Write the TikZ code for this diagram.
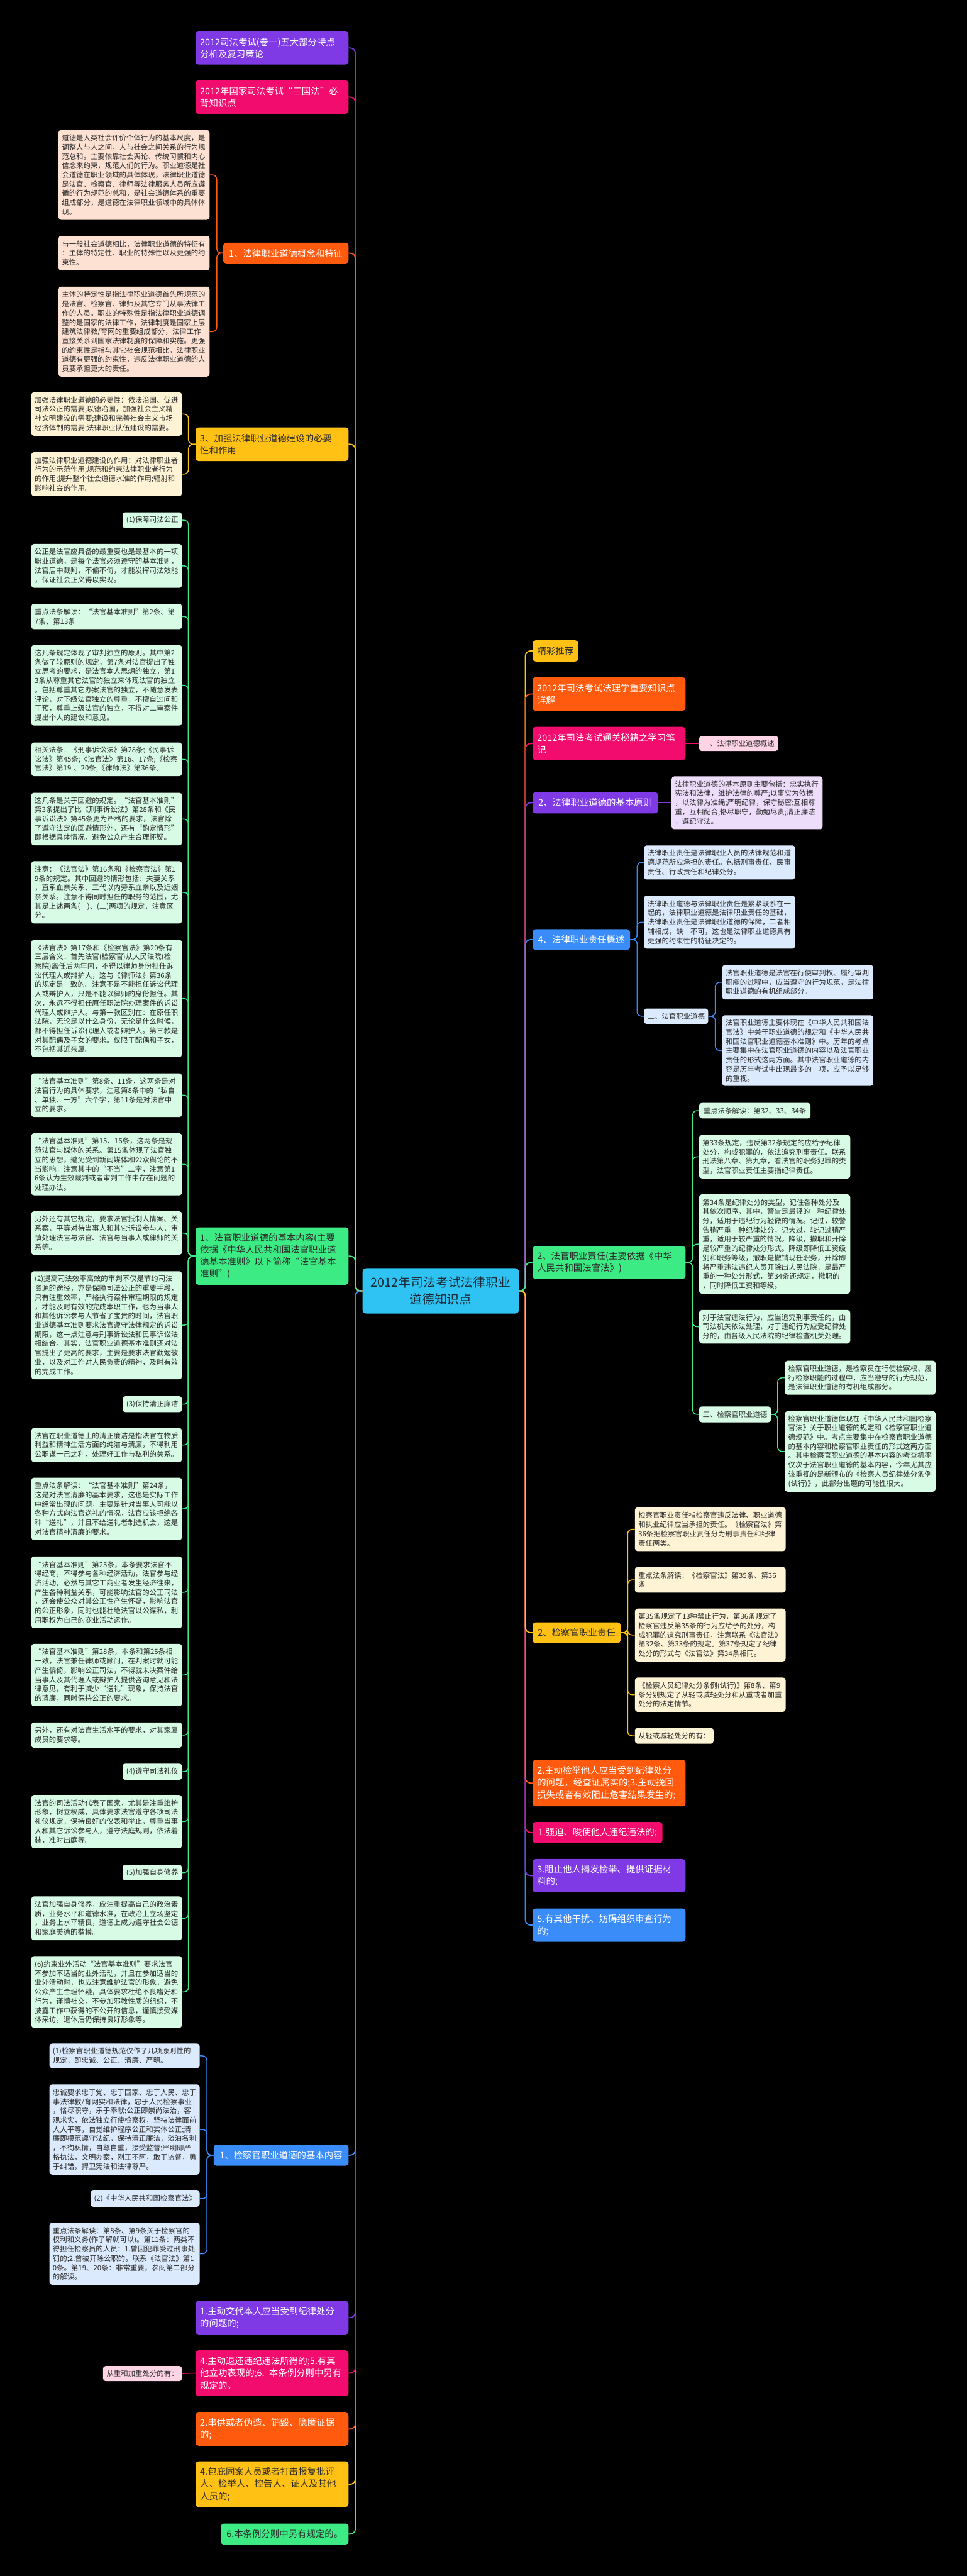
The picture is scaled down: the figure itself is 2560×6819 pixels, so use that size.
\documentclass[tikz,border=0pt]{standalone}
\usepackage{fontspec}
\setmainfont{Noto Sans CJK SC}
\definecolor{cpurple}{HTML}{7F3AE6}
\definecolor{cpink}{HTML}{F20C6E}
\definecolor{corange}{HTML}{FF5A0E}
\definecolor{cyellow}{HTML}{FFC114}
\definecolor{cgreen}{HTML}{3DEB85}
\definecolor{cblue}{HTML}{3A8CF8}
\definecolor{croot}{HTML}{2EC3F3}
\definecolor{lpeach}{HTML}{FDE1D3}
\definecolor{lyellow}{HTML}{FFF3D6}
\definecolor{lgreen}{HTML}{D8FBE6}
\definecolor{lblue}{HTML}{DCEAFD}
\definecolor{lpurple}{HTML}{EEDCFB}
\definecolor{lpink}{HTML}{FFD5E5}
\definecolor{tdark}{HTML}{2A2A2A}
\definecolor{rootdark}{HTML}{1B2A36}
\tikzset{
 mainbox/.style={rounded corners=8pt, inner xsep=12pt, inner ysep=6pt, font=\fontsize{24}{32}\selectfont, align=left},
 kidbox/.style={rounded corners=7pt, inner xsep=9pt, inner ysep=5pt, font=\fontsize{19}{24.5}\selectfont, align=left, text=tdark},
 lm/.style={mainbox, anchor=east},
 rm/.style={mainbox, anchor=west},
 lk/.style={kidbox, anchor=east},
 rk/.style={kidbox, anchor=west},
 wm/.style={text width=381pt},
 wk/.style={text width=381pt},
 spine/.style={line width=3pt, rounded corners=14pt},
 brk/.style={line width=2.5pt, rounded corners=12pt},
}
\begin{document}
\begin{tikzpicture}[x=1pt,y=-1pt]
\useasboundingbox (0,0) rectangle (2560,6819);
\fill[black] (0,0) rectangle (2560,6819);

% root
\node[rounded corners=10pt, fill=croot, text=rootdark, font=\fontsize{33}{45}\selectfont, align=center, minimum width=414pt, minimum height=120pt, inner sep=4pt] (root) at (1167,3417) {2012年司法考试法律职业\\道德知识点};
\coordinate (lsp) at (941,3417);
\coordinate (rsp) at (1391,3417);

% ---------------- left main nodes
\node[lm, fill=cpurple, text=white, wm, minimum height=88pt] (L1) at (923,127) {2012司法考试(卷一)五大部分特点\\分析及复习策论};
\node[lm, fill=cpink, text=white, wm, minimum height=89pt] (L2) at (923,257) {2012年国家司法考试“三国法”必\\背知识点};
\node[lm, fill=corange, text=white, minimum width=332pt, minimum height=55pt] (L3) at (923,670) {1、法律职业道德概念和特征};
\node[lm, fill=cyellow, text=tdark, wm, minimum height=89pt] (L4) at (923,1176) {3、加强法律职业道德建设的必要\\性和作用};
\node[lm, fill=cgreen, text=tdark, wm, minimum height=152pt] (L5) at (923,3325) {1、法官职业道德的基本内容(主要\\依据《中华人民共和国法官职业道\\德基本准则》以下简称“法官基本\\准则”)};
\node[lm, fill=cblue, text=white, minimum width=357pt, minimum height=56pt] (L6) at (923,5705) {1、检察官职业道德的基本内容};
\node[lm, fill=cpurple, text=white, wm, minimum height=89pt] (L7) at (923,6135) {1.主动交代本人应当受到纪律处分\\的问题的;};
\node[lm, fill=cpink, text=white, wm, minimum height=121pt] (L8) at (923,6282) {4.主动退还违纪违法所得的;5.有其\\他立功表现的;6. 本条例分则中另有\\规定的。};
\node[lm, fill=corange, text=white, wm, minimum height=88pt] (L9) at (923,6430) {2.串供或者伪造、销毁、隐匿证据\\的;};
\node[lm, fill=cyellow, text=tdark, wm, minimum height=121pt] (L10) at (923,6576) {4.包庇同案人员或者打击报复批评\\人、检举人、控告人、证人及其他\\人员的;};
\node[lm, fill=cgreen, text=tdark, minimum width=338pt, minimum height=56pt] (L11) at (923,6708) {6.本条例分则中另有规定的。};

% ---------------- right main nodes
\node[rm, fill=cyellow, text=tdark, minimum width=121pt, minimum height=56pt] (R1) at (1410,1723) {精彩推荐};
\node[rm, fill=corange, text=white, wm, minimum height=89pt] (R2) at (1410,1837) {2012年司法考试法理学重要知识点\\详解};
\node[rm, fill=cpink, text=white, wm, minimum height=88pt] (R3) at (1410,1968) {2012年司法考试通关秘籍之学习笔\\记};
\node[rm, fill=cpurple, text=white, minimum width=332pt, minimum height=56pt] (R4) at (1410,2125) {2、法律职业道德的基本原则};
\node[rm, fill=cblue, text=white, minimum width=258pt, minimum height=55pt] (R5) at (1410,2487) {4、法律职业责任概述};
\node[rm, fill=cgreen, text=tdark, wm, minimum height=87pt] (R6) at (1410,3342) {2、法官职业责任(主要依据《中华\\人民共和国法官法》)};
\node[rm, fill=cyellow, text=tdark, minimum width=233pt, minimum height=55pt] (R7) at (1410,4322) {2、检察官职业责任};
\node[rm, fill=corange, text=white, wm, minimum height=123pt] (R8) at (1410,4720) {2.主动检举他人应当受到纪律处分\\的问题，经查证属实的;3.主动挽回\\损失或者有效阻止危害结果发生的;};
\node[rm, fill=cpink, text=white, minimum width=344pt, minimum height=56pt] (R9) at (1410,4851) {1.强迫、唆使他人违纪违法的;};
\node[rm, fill=cpurple, text=white, wm, minimum height=88pt] (R10) at (1410,4965) {3.阻止他人揭发检举、提供证据材\\料的;};
\node[rm, fill=cblue, text=white, wm, minimum height=88pt] (R11) at (1410,5096) {5.有其他干扰、妨碍组织审查行为\\的;};

% ---------------- left children: L3
\node[lk, fill=lpeach, text width=382pt, minimum height=238pt] (C1) at (555,463) {道德是人类社会评价个体行为的基本尺度，是\\调整人与人之间，人与社会之间关系的行为规\\范总和。主要依靠社会舆论、传统习惯和内心\\信念来约束，规范人们的行为。职业道德是社\\会道德在职业领域的具体体现，法律职业道德\\是法官、检察官、律师等法律服务人员所应遵\\循的行为规范的总和，是社会道德体系的重要\\组成部分，是道德在法律职业领域中的具体体\\现。};
\node[lk, fill=lpeach, text width=382pt, minimum height=91pt] (C2) at (555,670) {与一般社会道德相比，法律职业道德的特征有\\：主体的特定性、职业的特殊性以及更强的约\\束性。};
\node[lk, fill=lpeach, text width=382pt, minimum height=238pt] (C3) at (555,878) {主体的特定性是指法律职业道德首先所规范的\\是法官、检察官、律师及其它专门从事法律工\\作的人员。职业的特殊性是指法律职业道德调\\整的是国家的法律工作，法律制度是国家上层\\建筑法律教/育网的重要组成部分，法律工作\\直接关系到国家法律制度的保障和实施。更强\\的约束性是指与其它社会规范相比，法律职业\\道德有更强的约束性，违反法律职业道德的人\\员要承担更大的责任。};

% L4
\node[lk, fill=lyellow, wk, minimum height=115pt] (D1) at (482,1096) {加强法律职业道德的必要性：依法治国、促进\\司法公正的需要;以德治国，加强社会主义精\\神文明建设的需要;建设和完善社会主义市场\\经济体制的需要;法律职业队伍建设的需要。};
\node[lk, fill=lyellow, wk, minimum height=116pt] (D2) at (482,1255) {加强法律职业道德建设的作用：对法律职业者\\行为的示范作用;规范和约束法律职业者行为\\的作用;提升整个社会道德水准的作用;辐射和\\影响社会的作用。};

% L5
\node[lk, fill=lgreen, minimum width=157pt, minimum height=42pt] (G1) at (482,1377) {(1)保障司法公正};
\node[lk, fill=lgreen, wk, minimum height=116pt] (G2) at (482,1498) {公正是法官应具备的最重要也是最基本的一项\\职业道德，是每个法官必须遵守的基本准则，\\法官居中裁判，不偏不倚，才能发挥司法效能\\，保证社会正义得以实现。};
\node[lk, fill=lgreen, wk, minimum height=67pt] (G3) at (482,1632) {重点法条解读：“法官基本准则”第2条、第\\7条、第13条};
\node[lk, fill=lgreen, wk, minimum height=213pt] (G4) at (482,1814) {这几条规定体现了审判独立的原则。其中第2\\条做了较原则的规定，第7条对法官提出了独\\立思考的要求，是法官本人思想的独立，第1\\3条从尊重其它法官的独立来体现法官的独立\\。包括尊重其它办案法官的独立，不随意发表\\评论，对下级法官独立的尊重，不擅自过问和\\干预，尊重上级法官的独立，不得对二审案件\\提出个人的建议和意见。};
\node[lk, fill=lgreen, wk, minimum height=89pt] (G5) at (482,2010) {相关法条：《刑事诉讼法》第28条;《民事诉\\讼法》第45条;《法官法》第16、17条;《检察\\官法》第19 、20条;《律师法》第36条。};
\node[lk, fill=lgreen, wk, minimum height=139pt] (G6) at (482,2168) {这几条是关于回避的规定。“法官基本准则”\\第3条提出了比《刑事诉讼法》第28条和《民\\事诉讼法》第45条更为严格的要求，法官除\\了遵守法定的回避情形外，还有“酌定情形”\\即根据具体情况，避免公众产生合理怀疑。};
\node[lk, fill=lgreen, wk, minimum height=165pt] (G7) at (482,2362) {注意：《法官法》第16条和《检察官法》第1\\9条的规定。其中回避的情形包括：夫妻关系\\，直系血亲关系、三代以内旁系血亲以及近姻\\亲关系。注意不得同时担任的职务的范围，尤\\其是上述两条(一)、(二)两项的规定，注意区\\分。};
\node[lk, fill=lgreen, wk, minimum height=310pt] (G8) at (482,2643) {《法官法》第17条和《检察官法》第20条有\\三层含义：首先法官(检察官)从人民法院(检\\察院)离任后两年内，不得以律师身份担任诉\\讼代理人或辩护人，这与《律师法》第36条\\的规定是一致的。注意不是不能担任诉讼代理\\人或辩护人，只是不能以律师的身份担任。其\\次，永远不得担任原任职法院办理案件的诉讼\\代理人或辩护人。与第一款区别在：在原任职\\法院，无论是以什么身份，无论是什么时候，\\都不得担任诉讼代理人或者辩护人。第三款是\\对其配偶及子女的要求。仅限于配偶和子女，\\不包括其近亲属。};
\node[lk, fill=lgreen, wk, minimum height=116pt] (G9) at (482,2899) {“法官基本准则”第8条、11条，这两条是对\\法官行为的具体要求，注意第8条中的“私自\\、单独、一方”六个字，第11条是对法官中\\立的要求。};
\node[lk, fill=lgreen, wk, minimum height=164pt] (G10) at (482,3082) {“法官基本准则”第15、16条，这两条是规\\范法官与媒体的关系。第15条体现了法官独\\立的思想，避免受到新闻媒体和公众舆论的不\\当影响。注意其中的“不当”二字，注意第1\\6条认为生效裁判或者审判工作中存在问题的\\处理办法。};
\node[lk, fill=lgreen, wk, minimum height=115pt] (G11) at (482,3264) {另外还有其它规定，要求法官抵制人情案、关\\系案，平等对待当事人和其它诉讼参与人，审\\慎处理法官与法官、法官与当事人或律师的关\\系等。};
\node[lk, fill=lgreen, wk, minimum height=286pt] (G12) at (482,3508) {(2)提高司法效率高效的审判不仅是节约司法\\资源的途径，亦是保障司法公正的重要手段，\\只有注重效率，严格执行案件审理期限的规定\\，才能及时有效的完成本职工作，也为当事人\\和其他诉讼参与人节省了宝贵的时间，法官职\\业道德基本准则要求法官遵守法律规定的诉讼\\期限，这一点注意与刑事诉讼法和民事诉讼法\\相结合。其实，法官职业道德基本准则还对法\\官提出了更高的要求，主要是要求法官勤勉敬\\业，以及对工作对人民负责的精神，及时有效\\的完成工作。};
\node[lk, fill=lgreen, minimum width=157pt, minimum height=42pt] (G13) at (482,3717) {(3)保持清正廉洁};
\node[lk, fill=lgreen, wk, minimum height=90pt] (G14) at (482,3825) {法官在职业道德上的清正廉洁是指法官在物质\\利益和精神生活方面的纯洁与清廉，不得利用\\公职谋一己之利，处理好工作与私利的关系。};
\node[lk, fill=lgreen, wk, minimum height=165pt] (G15) at (482,3994) {重点法条解读：“法官基本准则”第24条，\\这是对法官清廉的基本要求，这也是实际工作\\中经常出现的问题，主要是针对当事人可能以\\各种方式向法官送礼的情况，法官应该拒绝各\\种“送礼”，并且不给送礼者制造机会，这是\\对法官精神清廉的要求。};
\node[lk, fill=lgreen, wk, minimum height=190pt] (G16) at (482,4215) {“法官基本准则”第25条，本条要求法官不\\得经商，不得参与各种经济活动，法官参与经\\济活动，必然与其它工商业者发生经济往来，\\产生各种利益关系，可能影响法官的公正司法\\，还会使公众对其公正性产生怀疑，影响法官\\的公正形象，同时也能杜绝法官以公谋私，利\\用职权为自己的商业活动运作。};
\node[lk, fill=lgreen, wk, minimum height=165pt] (G17) at (482,4434) {“法官基本准则”第28条，本条和第25条相\\一致，法官兼任律师或顾问，在判案时就可能\\产生偏倚，影响公正司法，不得就未决案件给\\当事人及其代理人或辩护人提供咨询意见和法\\律意见，有利于减少“送礼”现象，保持法官\\的清廉，同时保持公正的要求。};
\node[lk, fill=lgreen, wk, minimum height=67pt] (G18) at (482,4593) {另外，还有对法官生活水平的要求，对其家属\\成员的要求等。};
\node[lk, fill=lgreen, minimum width=157pt, minimum height=43pt] (G19) at (482,4690) {(4)遵守司法礼仪};
\node[lk, fill=lgreen, wk, minimum height=141pt] (G20) at (482,4822) {法官的司法活动代表了国家，尤其是注重维护\\形象，树立权威，具体要求法官遵守各项司法\\礼仪规定，保持良好的仪表和举止，尊重当事\\人和其它诉讼参与人，遵守法庭规则，依法着\\装，准时出庭等。};
\node[lk, fill=lgreen, minimum width=157pt, minimum height=41pt] (G21) at (482,4957) {(5)加强自身修养};
\node[lk, fill=lgreen, wk, minimum height=116pt] (G22) at (482,5078) {法官加强自身修养，应注重提高自己的政治素\\质，业务水平和道德水准，在政治上立场坚定\\，业务上水平精良，道德上成为遵守社会公德\\和家庭美德的楷模。};
\node[lk, fill=lgreen, wk, minimum height=190pt] (G23) at (482,5273) {(6)约束业外活动“法官基本准则”要求法官\\不参加不适当的业外活动，并且在参加适当的\\业外活动时，也应注意维护法官的形象，避免\\公众产生合理怀疑，具体要求杜绝不良嗜好和\\行为，谨慎社交，不参加邪教性质的组织，不\\披露工作中获得的不公开的信息，谨慎接受媒\\体采访，退休后仍保持良好形象等。};

% L6
\node[lk, fill=lblue, text width=380pt, minimum height=65pt] (B1) at (529,5442) {(1)检察官职业道德规范仅作了几项原则性的\\规定，即忠诚、公正、清廉、严明。};
\node[lk, fill=lblue, text width=380pt, minimum height=239pt] (B2) at (529,5637) {忠诚要求忠于党、忠于国家、忠于人民、忠于\\事法律教/育网实和法律，忠于人民检察事业\\，恪尽职守，乐于奉献;公正即崇尚法治，客\\观求实，依法独立行使检察权，坚持法律面前\\人人平等，自觉维护程序公正和实体公正;清\\廉即模范遵守法纪，保持清正廉洁，淡泊名利\\，不徇私情，自尊自重，接受监督;严明即严\\格执法，文明办案，刚正不阿，敢于监督，勇\\于纠错，捍卫宪法和法律尊严。};
\node[lk, fill=lblue, minimum width=289pt, minimum height=43pt] (B3) at (529,5820) {(2)《中华人民共和国检察官法》};
\node[lk, fill=lblue, text width=380pt, minimum height=164pt] (B4) at (529,5966) {重点法条解读：第8条、第9条关于检察官的\\权利和义务(作了解就可以)。第11条：两类不\\得担任检察员的人员：1.曾因犯罪受过刑事处\\罚的;2.曾被开除公职的。联系《法官法》第1\\0条。第19、20条：非常重要，参阅第二部分\\的解读。};

% L8
\node[lk, fill=lpink, minimum width=209pt, minimum height=40pt] (P1) at (482,6283) {从重和加重处分的有：};

% ---------------- right children
\node[rk, fill=lpink, minimum width=209pt, minimum height=40pt] (R3c) at (1851,1968) {一、法律职业道德概述};
\node[rk, fill=lpurple, text width=382pt, minimum height=140pt] (R4c) at (1778,2125) {法律职业道德的基本原则主要包括：忠实执行\\宪法和法律，维护法律的尊严;以事实为依据\\，以法律为准绳;严明纪律，保守秘密;互相尊\\重，互相配合;恪尽职守，勤勉尽责;清正廉洁\\，遵纪守法。};

\node[rk, fill=lblue, text width=382pt, minimum height=90pt] (E1) at (1705,2283) {法律职业责任是法律职业人员的法律规范和道\\德规范所应承担的责任。包括刑事责任、民事\\责任、行政责任和纪律处分。};
\node[rk, fill=lblue, text width=382pt, minimum height=140pt] (E2) at (1705,2441) {法律职业道德与法律职业责任是紧紧联系在一\\起的，法律职业道德是法律职业责任的基础，\\法律职业责任是法律职业道德的保障，二者相\\辅相成，缺一不可，这也是法律职业道德具有\\更强的约束性的特征决定的。};
\node[rk, fill=lblue, minimum width=170pt, minimum height=41pt] (E3) at (1705,2690) {二、法官职业道德};
\node[rk, fill=lblue, text width=382pt, minimum height=91pt] (F1) at (1912,2600) {法官职业道德是法官在行使审判权、履行审判\\职能的过程中，应当遵守的行为规范，是法律\\职业道德的有机组成部分。};
\node[rk, fill=lblue, text width=382pt, minimum height=187pt] (F2) at (1912,2781) {法官职业道德主要体现在《中华人民共和国法\\官法》中关于职业道德的规定和《中华人民共\\和国法官职业道德基本准则》中。历年的考点\\主要集中在法官职业道德的内容以及法官职业\\责任的形式这两方面。其中法官职业道德的内\\容是历年考试中出现最多的一项，应予以足够\\的重视。};

\node[rk, fill=lgreen, minimum width=295pt, minimum height=41pt] (H1) at (1851,2940) {重点法条解读：第32、33、34条};
\node[rk, fill=lgreen, text width=382pt, minimum height=115pt] (H2) at (1851,3062) {第33条规定，违反第32条规定的应给予纪律\\处分，构成犯罪的，依法追究刑事责任。联系\\刑法第八章、第九章，看法官的职务犯罪的类\\型，法官职业责任主要指纪律责任。};
\node[rk, fill=lgreen, text width=382pt, minimum height=263pt] (H3) at (1851,3293) {第34条是纪律处分的类型，记住各种处分及\\其依次顺序，其中，警告是最轻的一种纪律处\\分，适用于违纪行为轻微的情况。记过，较警\\告稍严重一种纪律处分，记大过，较记过稍严\\重，适用于较严重的情况。降级，撤职和开除\\是较严重的纪律处分形式。降级即降低工资级\\别和职务等级，撤职是撤销现任职务，开除即\\将严重违法违纪人员开除出人民法院，是最严\\重的一种处分形式，第34条还规定，撤职的\\，同时降低工资和等级。};
\node[rk, fill=lgreen, text width=382pt, minimum height=89pt] (H4) at (1851,3512) {对于法官违法行为，应当追究刑事责任的，由\\司法机关依法处理，对于违纪行为应受纪律处\\分的，由各级人民法院的纪律检查机关处理。};
\node[rk, fill=lgreen, minimum width=190pt, minimum height=42pt] (H5) at (1851,3744) {三、检察官职业道德};
\node[rk, fill=lgreen, text width=381pt, minimum height=90pt] (I1) at (2078,3647) {检察官职业道德，是检察员在行使检察权、履\\行检察职能的过程中，应当遵守的行为规范，\\是法律职业道德的有机组成部分。};
\node[rk, fill=lgreen, text width=381pt, minimum height=213pt] (I2) at (2078,3842) {检察官职业道德体现在《中华人民共和国检察\\官法》关于职业道德的规定和《检察官职业道\\德规范》中。考点主要集中在检察官职业道德\\的基本内容和检察官职业责任的形式这两方面\\。其中检察官职业道德的基本内容的考查机率\\仅次于法官职业道德的基本内容，今年尤其应\\该重视的是新颁布的《检察人员纪律处分条例\\(试行)》，此部分出题的可能性很大。};

\node[rk, fill=lyellow, text width=381pt, minimum height=116pt] (J1) at (1681,4048) {检察官职业责任指检察官违反法律、职业道德\\和执业纪律应当承担的责任。《检察官法》第\\36条把检察官职业责任分为刑事责任和纪律\\责任两类。};
\node[rk, fill=lyellow, text width=381pt, minimum height=68pt] (J2) at (1681,4182) {重点法条解读：《检察官法》第35条、第36\\条};
\node[rk, fill=lyellow, text width=381pt, minimum height=140pt] (J3) at (1681,4328) {第35条规定了13种禁止行为，第36条规定了\\检察官违反第35条的行为应给予的处分，构\\成犯罪的追究刑事责任，注意联系《法官法》\\第32条、第33条的规定。第37条规定了纪律\\处分的形式与《法官法》第34条相同。};
\node[rk, fill=lyellow, text width=381pt, minimum height=91pt] (J4) at (1681,4486) {《检察人员纪律处分条例(试行)》第8条、第9\\条分别规定了从轻或减轻处分和从重或者加重\\处分的法定情节。};
\node[rk, fill=lyellow, minimum width=208pt, minimum height=42pt] (J5) at (1681,4595) {从轻或减轻处分的有：};

% ---------------- spine connectors (left), farthest first
\draw[spine, cgreen] (root.west) -- (lsp) |- (L11.east);
\draw[spine, cpurple] (root.west) -- (lsp) |- (L1.east);
\draw[spine, cyellow] (root.west) -- (lsp) |- (L10.east);
\draw[spine, cpink] (root.west) -- (lsp) |- (L2.east);
\draw[spine, corange] (root.west) -- (lsp) |- (L9.east);
\draw[spine, cpink] (root.west) -- (lsp) |- (L8.east);
\draw[spine, cpurple] (root.west) -- (lsp) |- (L7.east);
\draw[spine, corange] (root.west) -- (lsp) |- (L3.east);
\draw[spine, cblue] (root.west) -- (lsp) |- (L6.east);
\draw[spine, cyellow] (root.west) -- (lsp) |- (L4.east);
\draw[spine, cgreen] (root.west) -- (lsp) |- (L5.east);

% right spine
\draw[spine, cyellow] (root.east) -- (rsp) |- (R1.west);
\draw[spine, corange] (root.east) -- (rsp) |- (R2.west);
\draw[spine, cpink] (root.east) -- (rsp) |- (R3.west);
\draw[spine, cpurple] (root.east) -- (rsp) |- (R4.west);
\draw[spine, cblue] (root.east) -- (rsp) |- (R11.west);
\draw[spine, cpurple] (root.east) -- (rsp) |- (R10.west);
\draw[spine, cpink] (root.east) -- (rsp) |- (R9.west);
\draw[spine, corange] (root.east) -- (rsp) |- (R8.west);
\draw[spine, cblue] (root.east) -- (rsp) |- (R5.west);
\draw[spine, cyellow] (root.east) -- (rsp) |- (R7.west);
\draw[spine, cgreen] (root.east) -- (rsp) |- (R6.west);

% ---------------- child connectors
\coordinate (bL3) at (574,670);
\draw[brk, corange] (L3.west) -- (bL3) |- (C1.east);
\draw[brk, corange] (L3.west) -- (C2.east);
\draw[brk, corange] (L3.west) -- (bL3) |- (C3.east);

\coordinate (bL4) at (499,1176);
\foreach \n in {D1,D2} \draw[brk, cyellow] (L4.west) -- (bL4) |- (\n.east);

\coordinate (bL5) at (499,3325);
\foreach \n in {G1,G2,G3,G4,G5,G6,G7,G8,G9,G10,G11,G12,G13,G14,G15,G16,G17,G18,G19,G20,G21,G22,G23} \draw[brk, cgreen] (L5.west) -- (bL5) |- (\n.east);

\coordinate (bL6) at (548,5705);
\foreach \n in {B1,B2,B3,B4} \draw[brk, cblue] (L6.west) -- (bL6) |- (\n.east);

\draw[brk, cpink] (L8.west) -- (P1.east);
\draw[brk, cpink] (R3.east) -- (R3c.west);
\draw[brk, cpurple] (R4.east) -- (R4c.west);

\coordinate (bR5) at (1687,2487);
\foreach \n in {E1,E2,E3} \draw[brk, cblue] (R5.east) -- (bR5) |- (\n.west);
\coordinate (bE3) at (1894,2690);
\foreach \n in {F1,F2} \draw[brk, cblue] (E3.east) -- (bE3) |- (\n.west);

\coordinate (bR6) at (1834,3342);
\foreach \n in {H1,H2,H3,H4,H5} \draw[brk, cgreen] (R6.east) -- (bR6) |- (\n.west);
\coordinate (bH5) at (2059,3744);
\foreach \n in {I1,I2} \draw[brk, cgreen] (H5.east) -- (bH5) |- (\n.west);

\coordinate (bR7) at (1662,4322);
\foreach \n in {J1,J2,J3,J4,J5} \draw[brk, cyellow] (R7.east) -- (bR7) |- (\n.west);
\end{tikzpicture}
\end{document}
